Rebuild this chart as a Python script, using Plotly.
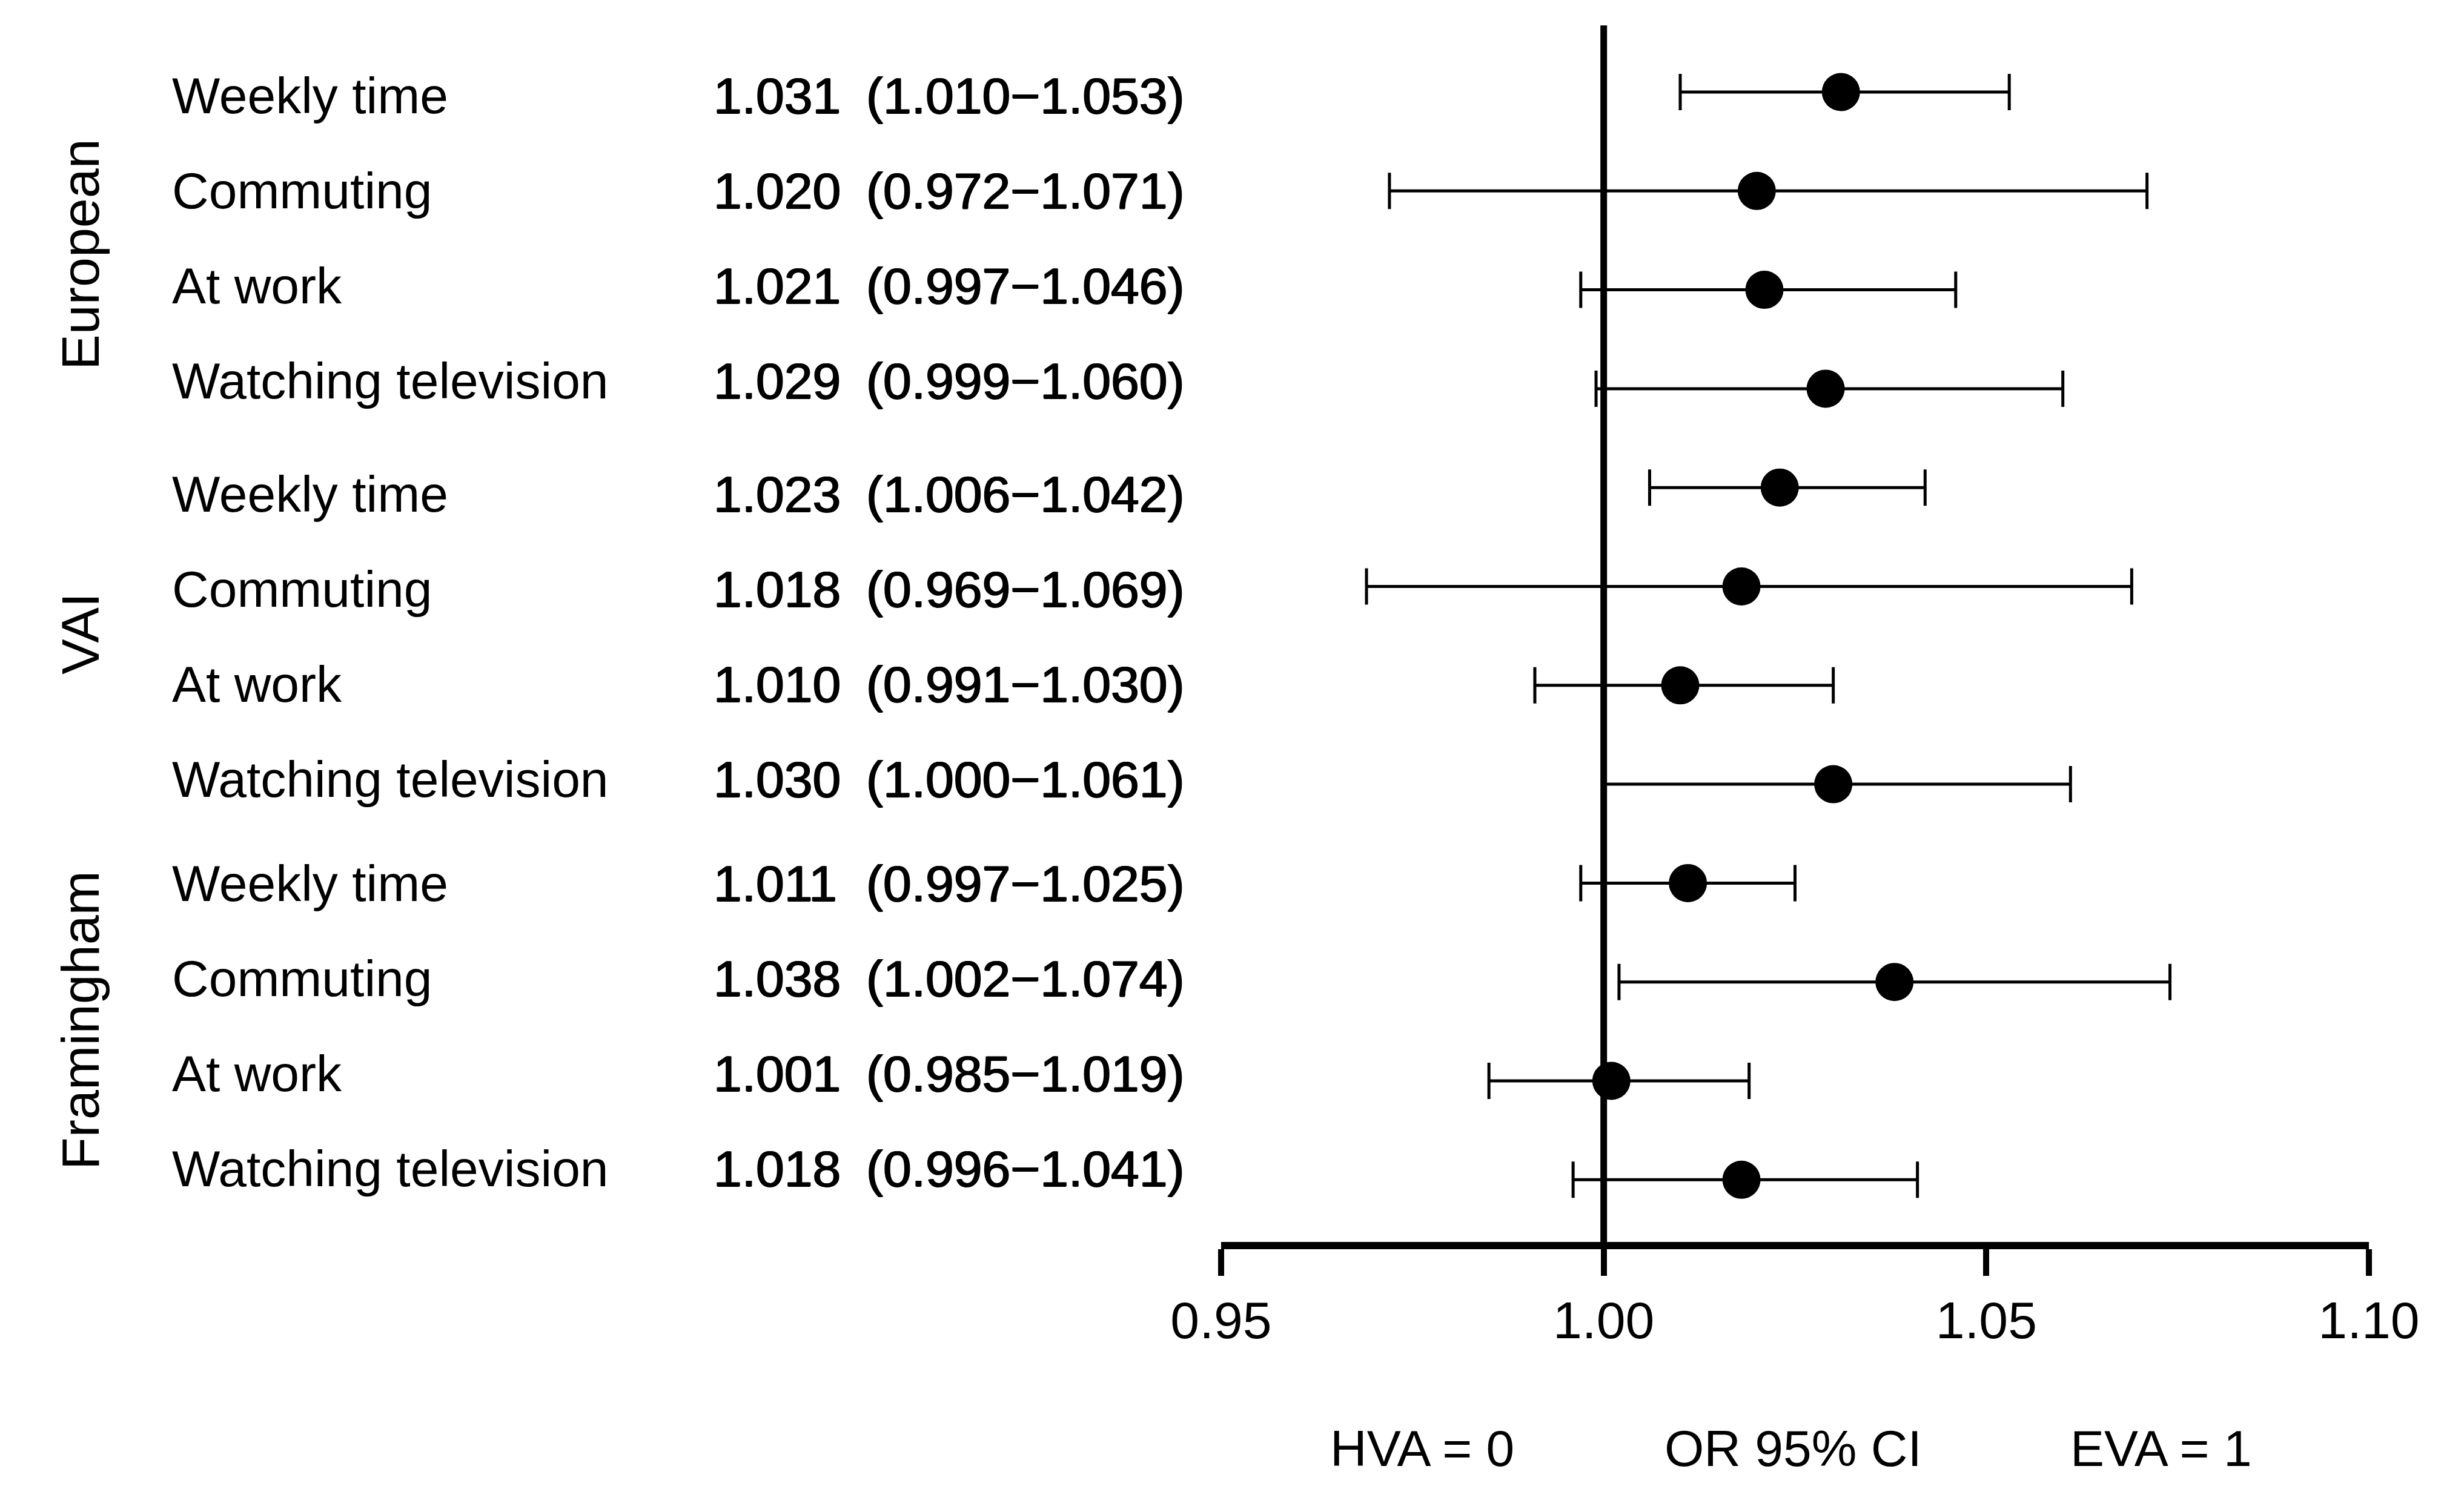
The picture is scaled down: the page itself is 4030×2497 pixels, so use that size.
import plotly.graph_objects as go

# ---------------- data ----------------
groups = ["European", "VAI", "Framingham"]
exposures = ["Weekly time", "Commuting", "At work", "Watching television"]
or_values = [1.031, 1.020, 1.021, 1.029,
             1.023, 1.018, 1.010, 1.030,
             1.011, 1.038, 1.001, 1.018]
ci_lower = [1.010, 0.972, 0.997, 0.999,
            1.006, 0.969, 0.991, 1.000,
            0.997, 1.002, 0.985, 0.996]
ci_upper = [1.053, 1.071, 1.046, 1.060,
            1.042, 1.069, 1.030, 1.061,
            1.025, 1.074, 1.019, 1.041]
x_ticks = [0.95, 1.00, 1.05, 1.10]
x_tick_labels = ["0.95", "1.00", "1.05", "1.10"]
bottom_labels = ["HVA = 0", "OR 95% CI", "EVA = 1"]

# ---------------- layout constants (pixels) ----------------
W, H = 4030, 2497
PLOT_LEFT, PLOT_RIGHT = 2016, 3911
PLOT_TOP, PLOT_BOTTOM = 42, 2051
ROW0, ROW_STEP = 152, 163.3
FONT = "Arial, Liberation Sans, sans-serif"
FS = 84
NUM_SHADOW = "1px 0px 0px #000, -1px 0px 0px #000, 0px 1px 0px #000"

n_per = len(exposures)
rows = list(range(len(or_values)))

def px_x(p):
    return p / W

def px_y(p):
    return 1 - p / H

fig = go.Figure()
fig.add_trace(go.Scatter(
    x=or_values, y=rows, mode="markers",
    marker=dict(size=63, color="black", line=dict(width=0)),
    error_x=dict(type="data", symmetric=False,
                 array=[u - o for u, o in zip(ci_upper, or_values)],
                 arrayminus=[o - l for o, l in zip(or_values, ci_lower)],
                 color="black", thickness=5, width=30),
    showlegend=False, hoverinfo="skip",
))

# reference line at OR = 1
fig.add_shape(type="line", xref="x", yref="y domain", x0=1.0, x1=1.0, y0=0, y1=1,
              line=dict(color="black", width=11), layer="below")

annotations = []
TEXT_GROUP_START = [158, 816, 1459]
TEXT_STEP = 157
for gi, g in enumerate(groups):
    for j, e in enumerate(exposures):
        i = gi * n_per + j
        ty = px_y(TEXT_GROUP_START[gi] + TEXT_STEP * j)
        annotations.append(dict(x=px_x(282), y=ty, xref="paper", yref="paper",
                                text=e, showarrow=False, xanchor="left", yanchor="middle",
                                font=dict(family=FONT, size=FS, color="black")))
        annotations.append(dict(x=px_x(1176), y=ty, xref="paper", yref="paper",
                                text=f"{or_values[i]:.3f}", showarrow=False,
                                xanchor="left", yanchor="middle",
                                font=dict(family=FONT, size=FS, color="black",
                                          shadow=NUM_SHADOW)))
        annotations.append(dict(x=px_x(1428), y=ty, xref="paper", yref="paper",
                                text=f"({ci_lower[i]:.3f}\u2212{ci_upper[i]:.3f})",
                                showarrow=False, xanchor="left", yanchor="middle",
                                font=dict(family=FONT, size=FS, color="black",
                                          shadow=NUM_SHADOW)))

GROUP_CENTER_Y = [420, 1047, 1685]
for gi, g in enumerate(groups):
    annotations.append(dict(x=px_x(132), y=px_y(GROUP_CENTER_Y[gi]), xref="paper", yref="paper",
                            text=g, showarrow=False, textangle=-90,
                            xanchor="center", yanchor="middle",
                            font=dict(family=FONT, size=88, color="black")))

BOTTOM_X = [2348, 2960, 3568]
for k, lab in enumerate(bottom_labels):
    annotations.append(dict(x=px_x(BOTTOM_X[k]), y=px_y(2392), xref="paper", yref="paper",
                            text=lab, showarrow=False, xanchor="center", yanchor="middle",
                            font=dict(family=FONT, size=FS, color="black")))

fig.update_layout(
    template="none",
    width=W, height=H,
    margin=dict(l=0, r=0, t=0, b=0, pad=0, autoexpand=False),
    paper_bgcolor="white", plot_bgcolor="white",
    annotations=annotations,
    showlegend=False,
    font=dict(family=FONT, size=FS, color="black"),
    xaxis=dict(
        domain=[PLOT_LEFT / W, PLOT_RIGHT / W],
        range=[x_ticks[0], x_ticks[-1]],
        tickmode="array", tickvals=x_ticks, ticktext=x_tick_labels,
        showline=True, linecolor="black", linewidth=12,
        ticks="outside", ticklen=44, tickwidth=10, tickcolor="black",
        tickfont=dict(family=FONT, size=86, color="black"),
        showgrid=False, zeroline=False, fixedrange=True, automargin=False,
    ),
    yaxis=dict(
        domain=[1 - PLOT_BOTTOM / H, 1 - PLOT_TOP / H],
        range=[(PLOT_BOTTOM - ROW0) / ROW_STEP, (PLOT_TOP - ROW0) / ROW_STEP],
        showline=False, showticklabels=False, ticks="",
        showgrid=False, zeroline=False, fixedrange=True, automargin=False,
    ),
)

fig.write_html("out.html", config={"displayModeBar": False},
               post_script="document.body.style.margin='0';document.body.style.overflow='hidden';")
